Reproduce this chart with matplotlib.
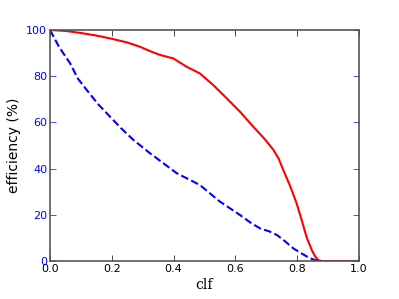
import matplotlib
matplotlib.use('Agg')
from matplotlib import pyplot as plt

# red: solid curve
clf_red = [0.0, 0.05, 0.1, 0.15, 0.2, 0.25, 0.29, 0.325, 0.356, 0.399, 0.442, 0.485, 0.528, 0.572,
           0.615, 0.658, 0.69, 0.707, 0.723, 0.74, 0.755, 0.777, 0.798, 0.815, 0.83, 0.847, 0.858, 0.868,
           0.88, 0.9, 0.95, 1.0]
eff_red = [100, 99.6, 98.7, 97.6, 96.2, 94.6, 92.8, 90.8, 89.2, 87.7, 84.1, 81.2, 76.2, 70.4,
           64.6, 58.1, 53.5, 50.8, 48.1, 44.3, 39.4, 32.5, 25.0, 17.5, 10.5, 4.8, 2.0, 0.4,
           0.0, 0.0, 0.0, 0.0]

# blue: dashed curve
clf_blue = [0.0, 0.03, 0.065, 0.09, 0.119, 0.155, 0.194, 0.23, 0.27, 0.324, 0.37, 0.41, 0.45, 0.485,
            0.55, 0.615, 0.65, 0.68, 0.71, 0.734, 0.76, 0.787, 0.815, 0.841, 0.86, 0.875]
eff_blue = [100, 92.5, 85.6, 79.0, 74.0, 68.0, 62.5, 57.5, 52.4, 46.6, 42.0, 38.0, 35.3, 32.9,
            25.7, 19.9, 16.5, 14.1, 12.8, 11.3, 8.6, 5.5, 3.2, 1.2, 0.3, 0.0]

fig = plt.figure(figsize=(3.99, 2.99), dpi=100)
ax = fig.add_axes([50 / 399, 38 / 299, 309 / 399, 231 / 299])

ax.plot(clf_red, eff_red, color='red', linewidth=1.5)
ax.plot(clf_blue, eff_blue, color='blue', linestyle='--', linewidth=1.5)

ax.set_xlim(0, 1)
ax.set_ylim(0, 100)
ax.set_xticks([0.0, 0.2, 0.4, 0.6, 0.8, 1.0])
ax.set_yticks([0, 20, 40, 60, 80, 100])

ax.tick_params(direction='in', top=True, right=True, labelsize=8, length=4, width=0.5, pad=2)
ax.tick_params(axis='y', colors='blue')
for sp in ax.spines.values():
    sp.set_color('#555555')
    sp.set_linewidth(1.2)

ax.set_xlabel('clf', family='DejaVu Serif', fontsize=10, labelpad=3)
ax.set_ylabel('efficiency (%)', fontsize=10, labelpad=4)

plt.savefig('out.png', dpi=100)
